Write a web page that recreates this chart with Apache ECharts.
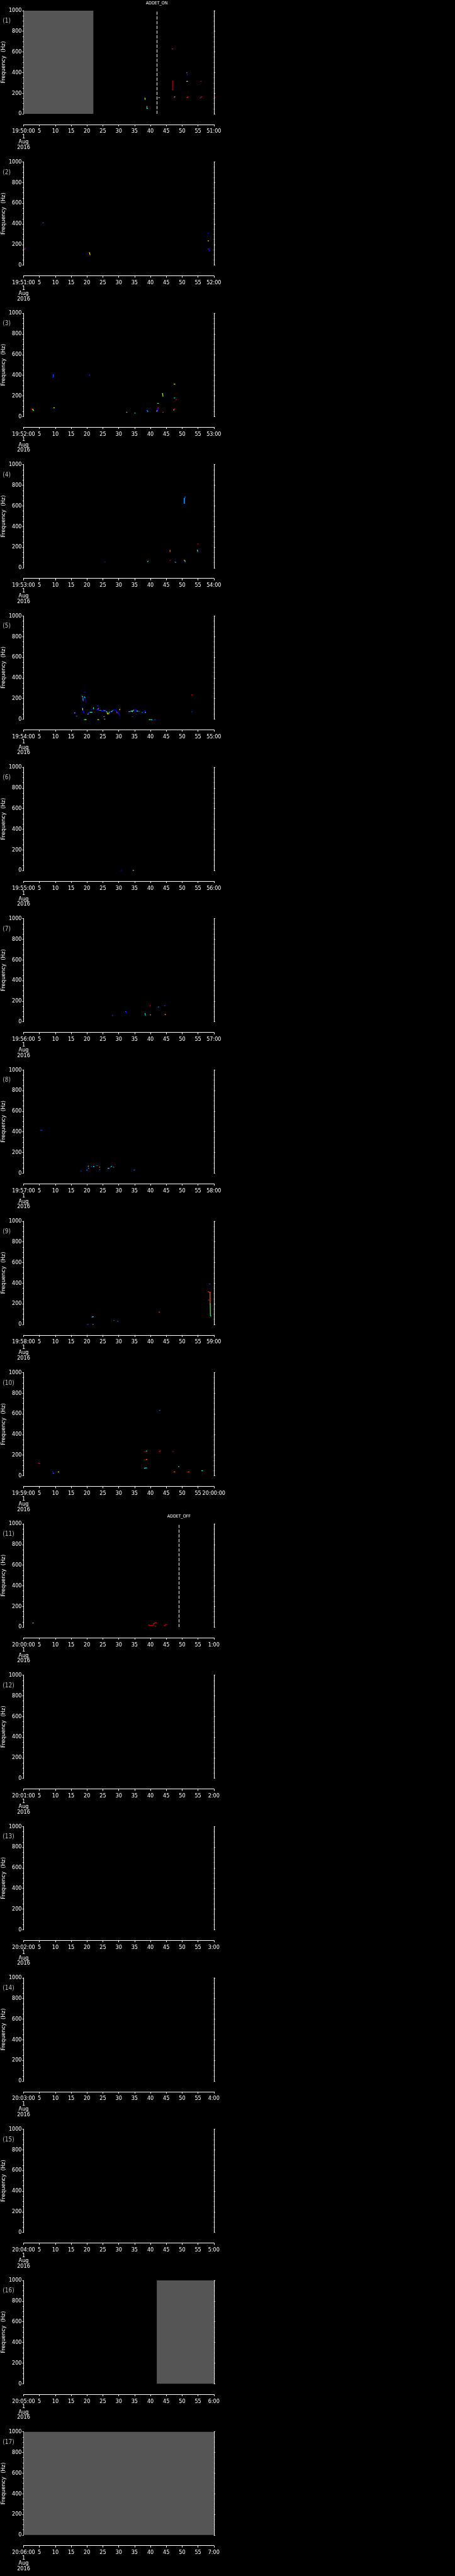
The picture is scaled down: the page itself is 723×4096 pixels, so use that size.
<!DOCTYPE html>
<html>
<head>
<meta charset="utf-8">
<title>Frequency panels</title>
<script src="https://cdn.jsdelivr.net/npm/echarts@6/dist/echarts.min.js"></script>
<style>
html, body { margin: 0; padding: 0; background: #000; }
#chart { width: 723px; height: 4096px; }
</style>
</head>
<body>
<div id="chart"></div>
<script>
// each track piece: [t0 (s), f0 (Hz), t1 (s), f1 (Hz), colour level 0..1]
var tracks01 = [
  [38.1,155,38.25,155,0.2], [38.3,152,38.3,140,0.6],
  [38.9,72,38.9,52,0.4], [38.9,52,39.05,52,0.4],
  [42.55,157,42.75,157,0.7], [42.75,157,42.8,157,0.6],
  [46.85,630,47.0,630,0.25], [47.0,630,47.1,630,0.8],
  [47.0,318,47.0,233,0.9], [47.0,233,47.1,233,0.9],
  [47.5,155,47.6,165,0.8], [47.6,165,47.7,165,0.4],
  [51.4,398,51.5,398,0.7], [51.5,395,51.7,372,0.2],
  [51.45,315,51.7,315,0.6],
  [51.3,157,51.75,157,0.85], [51.75,157,51.8,165,0.85],
  [55.9,315,56.05,315,0.85],
  [55.7,155,55.95,155,0.85], [55.95,155,56.05,165,0.2], [56.05,165,56.2,165,0.8],
  [60.35,160,60.5,160,0.8]
];
var tracks02 = [
  [0.35,152,0.45,162,0.8], [0.45,162,0.55,165,0.2],
  [6.1,410,6.2,410,0.3],
  [20.65,123,20.85,123,0.8], [20.8,120,20.85,110,0.6], [20.9,108,20.95,100,0.5],
  [58.2,310,58.35,310,0.2],
  [58.1,237,58.2,237,0.8], [58.25,235,58.35,235,0.6],
  [58.2,158,58.45,158,0.8], [58.45,158,58.5,140,0.2], [58.5,140,58.55,138,0.2]
];
var tracks03 = [
  [2.6,71,2.85,71,0.8], [2.9,70,3.0,60,0.6], [3.05,60,3.2,60,0.4],
  [9.3,378,9.35,404,0.25], [9.35,404,9.5,404,0.3], [9.5,404,9.6,392,0.2],
  [9.5,84,9.7,84,0.6],
  [20.75,400,20.85,400,0.25],
  [32.45,41,32.6,41,0.4],
  [35.05,33,35.2,33,0.4],
  [38.75,58,39.0,56,0.2], [39.0,56,39.2,46,0.35],
  [42.0,50,42.1,56,0.55],
  [42.3,55,42.35,82,0.2], [42.35,82,42.55,82,0.8],
  [42.3,127,42.55,127,0.5],
  [43.75,222,43.85,222,0.4], [43.85,220,43.95,196,0.55],
  [43.95,41,44.05,41,0.75],
  [47.35,60,47.4,70,0.45], [47.4,72,47.7,72,0.85],
  [47.45,313,47.75,313,0.6],
  [47.5,179,47.7,179,0.4],
  [48.0,161,48.2,163,0.85]
];
var tracks04 = [
  [25.45,57,25.75,57,0.2],
  [39.1,60,39.25,64,0.4],
  [46.15,170,46.2,157,0.7],
  [46.15,72,46.3,72,0.85],
  [47.8,55,48.0,52,0.35],
  [50.55,670,50.65,670,0.3], [50.6,670,50.6,625,0.3], [50.6,625,50.75,625,0.3],
  [50.75,625,50.8,670,0.3], [50.8,670,50.95,688,0.3],
  [50.5,72,50.8,72,0.75], [50.85,72,50.95,60,0.5], [50.95,57,51.1,55,0.25],
  [54.85,231,55.1,231,0.88],
  [54.8,172,54.9,160,0.5], [54.9,155,55.15,155,0.2]
];
var tracks05 = [
  [16.05,60,16.2,60,0.6], [16.2,57,16.45,57,0.2],
  [16.65,29,16.8,29,0.3],
  [18.5,108,18.55,108,0.2], [18.6,105,18.65,85,0.55], [18.75,85,18.85,65,0.2], [18.9,65,18.95,59,0.2],
  [18.45,220,18.6,220,0.4], [18.65,215,18.75,200,0.3], [18.75,195,18.8,180,0.5], [18.9,185,19.0,200,0.2],
  [19.15,215,19.3,210,0.4], [19.35,205,19.45,208,0.3], [19.5,195,19.55,165,0.2],
  [19.2,262,19.45,262,0.2],
  [19.15,-5,19.4,-5,0.4], [19.5,-5,19.75,-5,0.6],
  [20.2,48,20.4,48,0.4], [20.4,48,20.5,62,0.25], [20.5,62,20.95,62,0.2], [20.95,67,21.6,67,0.45],
  [21.3,93,21.4,93,0.2],
  [22.0,100,22.05,112,0.4],
  [23.0,93,23.5,93,0.2], [23.5,96,23.6,104,0.6], [23.6,100,23.75,85,0.2],
  [23.3,128,23.45,128,0.25],
  [23.4,-5,23.7,-5,0.6],
  [23.9,85,24.5,85,0.3], [24.5,80,25.0,80,0.2], [25.0,85,25.3,88,0.2], [25.3,82,25.8,82,0.35], [25.8,78,26.1,75,0.2],
  [26.1,72,26.35,68,0.5], [26.35,60,26.45,52,0.55], [26.45,52,26.9,52,0.6], [26.9,60,27.1,70,0.45],
  [27.2,70,27.6,70,0.2], [27.6,72,27.9,75,0.4], [27.9,82,28.3,85,0.3], [28.3,88,29.2,88,0.2],
  [29.2,80,29.4,75,0.2], [29.4,68,29.5,60,0.75], [29.6,70,29.8,70,0.2], [29.85,65,30.2,40,0.2], [30.2,38,30.3,37,0.2],
  [30.25,90,30.35,95,0.6],
  [25.3,24,25.45,24,0.35], [25.5,0,25.65,0,0.4],
  [33.2,72,33.5,72,0.4], [33.5,75,34.0,75,0.3], [34.0,80,34.4,72,0.45], [34.4,80,34.8,88,0.5],
  [34.8,85,35.2,78,0.2], [35.2,88,35.4,95,0.2], [35.4,90,35.6,80,0.2],
  [34.3,24,34.45,24,0.25],
  [35.4,47,35.7,47,0.2],
  [35.7,78,36.0,78,0.5], [36.0,75,36.6,75,0.25],
  [37.3,65,37.5,65,0.3],
  [38.3,85,38.35,65,0.2], [38.35,65,38.5,65,0.4],
  [39.6,-5,39.9,-5,0.55], [40.2,-5,40.5,-5,0.4], [41.3,-5,41.5,-5,0.25],
  [53.05,236,53.2,233,0.8],
  [53.05,70,53.15,72,0.25]
];
var tracks06 = [
  [30.6,0,30.8,0,0.2], [34.5,0,34.7,0,0.5]
];
var tracks07 = [
  [28.0,60,28.2,60,0.25],
  [32.2,99,32.35,99,0.35], [32.35,97,32.45,85,0.2],
  [38.3,80,38.35,70,0.4], [38.4,68,38.5,60,0.3],
  [39.85,150,39.95,158,0.88],
  [39.95,67,40.05,67,0.55],
  [42.45,142,42.6,145,0.3],
  [44.4,155,44.6,155,0.88], [44.6,158,44.7,158,0.2],
  [44.5,72,44.65,72,0.82], [44.65,70,44.75,70,0.65]
];
var tracks08 = [
  [5.3,415,5.85,415,0.25],
  [18.0,20,18.15,20,0.25],
  [19.9,29,20.1,29,0.3],
  [20.35,67,20.45,67,0.55],
  [20.45,46,20.55,46,0.35],
  [21.25,63,21.4,63,0.25],
  [21.95,60,22.05,56,0.25], [22.05,65,22.2,65,0.4],
  [22.95,72,23.35,72,0.25],
  [23.95,55,24.05,60,0.75],
  [23.95,33,24.05,33,0.3],
  [26.6,46,26.95,46,0.4],
  [27.45,56,27.6,62,0.25], [27.6,64,27.8,64,0.35],
  [28.35,57,28.45,57,0.7],
  [34.8,30,35.0,30,0.3]
];
var tracks09 = [
  [20.1,0,20.35,0,0.25],
  [21.55,70,21.7,74,0.3], [21.75,74,22.0,74,0.4],
  [21.8,0,21.95,0,0.35],
  [28.4,39,28.6,39,0.25],
  [29.65,30,29.8,30,0.3],
  [42.75,120,42.85,120,0.7],
  [58.2,317,58.35,317,0.3], [58.35,312,58.8,312,0.82], [58.8,312,58.85,199,0.7],
  [58.3,236,58.95,236,0.8],
  [58.85,199,58.9,89,0.5],
  [58.95,82,59.05,82,0.4],
  [58.55,393,58.8,390,0.25]
];
var tracks10 = [
  [4.7,121,4.95,121,0.82], [4.95,118,5.15,118,0.25],
  [9.15,42,9.3,28,0.2], [9.3,25,9.45,23,0.3],
  [10.9,37,11.1,37,0.6],
  [38.05,235,38.75,235,0.92], [38.75,240,38.9,240,0.4],
  [38.05,153,38.75,153,0.92], [38.75,159,38.9,159,0.7],
  [38.1,73,38.35,75,0.4], [38.5,76,38.85,76,0.38],
  [42.8,633,42.95,633,0.3],
  [42.7,235,43.0,235,0.85], [43.0,240,43.2,240,0.82],
  [47.1,235,47.3,235,0.88],
  [47.5,37,47.7,37,0.7],
  [48.85,89,49.0,89,0.38],
  [51.85,37,52.15,37,0.75],
  [56.2,49,56.4,49,0.45]
];
var tracks11 = [
  [2.9,39,3.05,39,0.45],
  [39.4,21,39.6,21,0.9], [39.6,16,40.9,16,0.9], [40.9,16,40.95,33,0.9], [40.95,33,41.35,33,0.9],
  [41.35,33,41.4,43,0.9], [41.4,43,41.8,43,0.9], [41.8,43,41.85,36,0.9],
  [41.35,9,41.8,9,0.9],
  [44.3,16,44.7,16,0.9], [44.7,16,44.75,24,0.9], [44.75,24,45.2,24,0.9]
];
var allTracks = [tracks01, tracks02, tracks03, tracks04, tracks05, tracks06, tracks07, tracks08,
  tracks09, tracks10, tracks11, [], [], [], [], [], []];

var startLabels = ['19:50:00','19:51:00','19:52:00','19:53:00','19:54:00','19:55:00','19:56:00','19:57:00',
  '19:58:00','19:59:00','20:00:00','20:01:00','20:02:00','20:03:00','20:04:00','20:05:00','20:06:00'];
var endLabels = ['51:00','52:00','53:00','54:00','55:00','56:00','57:00','58:00',
  '59:00','20:00:00','1:00','2:00','3:00','4:00','5:00','6:00','7:00'];

// no-data (grey) spans: panel index, from second, to second
var gapPanel = [0, 15, 16];
var gapFrom = [0, 42, 0];
var gapTo = [22, 60, 60];

// event markers
var eventPanel = [0, 10];
var eventSec = [42, 49];
var eventText = ['ADDET_ON', 'ADDET_OFF'];

var S = 0.705;
var PANEL_H = 5802 / 17 * S;
var NARROW = '"Liberation Sans Narrow", "DejaVu Sans Condensed", sans-serif';

function drawTrack(params, api) {
  var a = api.coord([api.value(0), api.value(1)]);
  var b = api.coord([api.value(2), api.value(3)]);
  return {
    type: 'line',
    shape: { x1: a[0], y1: a[1], x2: b[0], y2: b[1] },
    style: { stroke: api.visual('color'), lineWidth: 1.1, lineCap: 'square' }
  };
}

function timeFormatter(i) {
  return function (v) {
    if (v === 0) return startLabels[i] + '\n1\nAug\n2016';
    if (v === 60) return endLabels[i];
    return String(v);
  };
}

var grids = [], xAxes = [], yAxes = [], series = [], graphics = [], seriesIdx = [];

for (var i = 0; i < 17; i++) {
  var panelTop = i * PANEL_H;
  grids.push({ left: 28.7, top: panelTop + 16.9, width: 311.1, height: 164.1 });

  xAxes.push({
    gridIndex: i, type: 'value', min: 0, max: 60, interval: 5,
    position: 'bottom', offset: 16.9,
    axisLine: { show: true, onZero: false, lineStyle: { color: '#fff', width: 1 } },
    axisTick: { show: true, length: 3, lineStyle: { color: '#fff', width: 1 } },
    axisLabel: {
      show: true, color: '#fff', fontSize: 9, fontFamily: NARROW, margin: 7,
      lineHeight: 8.5, showMinLabel: true, showMaxLabel: true,
      formatter: timeFormatter(i)
    },
    splitLine: { show: false }
  });

  var yBase = {
    gridIndex: i, type: 'value', min: 0, max: 1000, interval: 200,
    axisLine: { show: true, onZero: false, lineStyle: { color: '#fff', width: 1 } },
    axisTick: { show: true, length: 2, lineStyle: { color: '#fff', width: 1 } },
    minorTick: { show: true, splitNumber: 4, length: 1.5, lineStyle: { color: '#fff', width: 1 } },
    splitLine: { show: false },
    minorSplitLine: { show: false }
  };
  yAxes.push(Object.assign({}, yBase, {
    position: 'left',
    name: 'Frequency  (Hz)', nameLocation: 'middle', nameGap: 16, nameRotate: 90,
    nameTextStyle: { color: '#fff', fontSize: 8.5, fontFamily: '"DejaVu Sans", sans-serif' },
    axisLabel: { show: true, color: '#fff', fontSize: 9, fontFamily: NARROW, margin: 3,
                 formatter: function (v) { return String(v); } }
  }));
  yAxes.push(Object.assign({}, yBase, {
    position: 'right',
    axisLabel: { show: false }
  }));

  var s = {
    type: 'custom', xAxisIndex: i, yAxisIndex: 2 * i,
    data: allTracks[i], renderItem: drawTrack, clip: false,
    encode: { x: [0, 2], y: [1, 3] },
    silent: true
  };
  var g = gapPanel.indexOf(i);
  if (g >= 0) {
    s.markArea = {
      silent: true,
      itemStyle: { color: '#555555', opacity: 1, borderWidth: 0 },
      data: [[{ xAxis: gapFrom[g], yAxis: 0 }, { xAxis: gapTo[g], yAxis: 1000 }]]
    };
  }
  var e = eventPanel.indexOf(i);
  if (e >= 0) {
    s.markLine = {
      silent: true, symbol: 'none', animation: false,
      lineStyle: { color: '#fff', width: 1, type: [5, 2.5] },
      label: { show: true, position: 'end', formatter: eventText[e], color: '#fff',
               fontSize: 7, fontFamily: NARROW, distance: 8 },
      data: [[{ coord: [eventSec[e], 0] }, { coord: [eventSec[e], 1000] }]]
    };
  }
  series.push(s);
  seriesIdx.push(i);

  graphics.push({
    type: 'text', left: 4.2, top: panelTop + 28.4, silent: true,
    style: { text: '(' + (i + 1) + ')', fill: '#b8b8b8', fontSize: 10, fontFamily: NARROW }
  });
}

var chart = echarts.init(document.getElementById('chart'));
chart.setOption({
  backgroundColor: '#000',
  animation: false,
  grid: grids,
  xAxis: xAxes,
  yAxis: yAxes,
  visualMap: {
    type: 'continuous', show: false, min: 0, max: 1, dimension: 4,
    seriesIndex: seriesIdx,
    inRange: { color: ['#00007f', '#0000ff', '#00ffff', '#ffff00', '#ff0000', '#7f0000'] }
  },
  graphic: graphics,
  series: series
});
</script>
</body>
</html>
